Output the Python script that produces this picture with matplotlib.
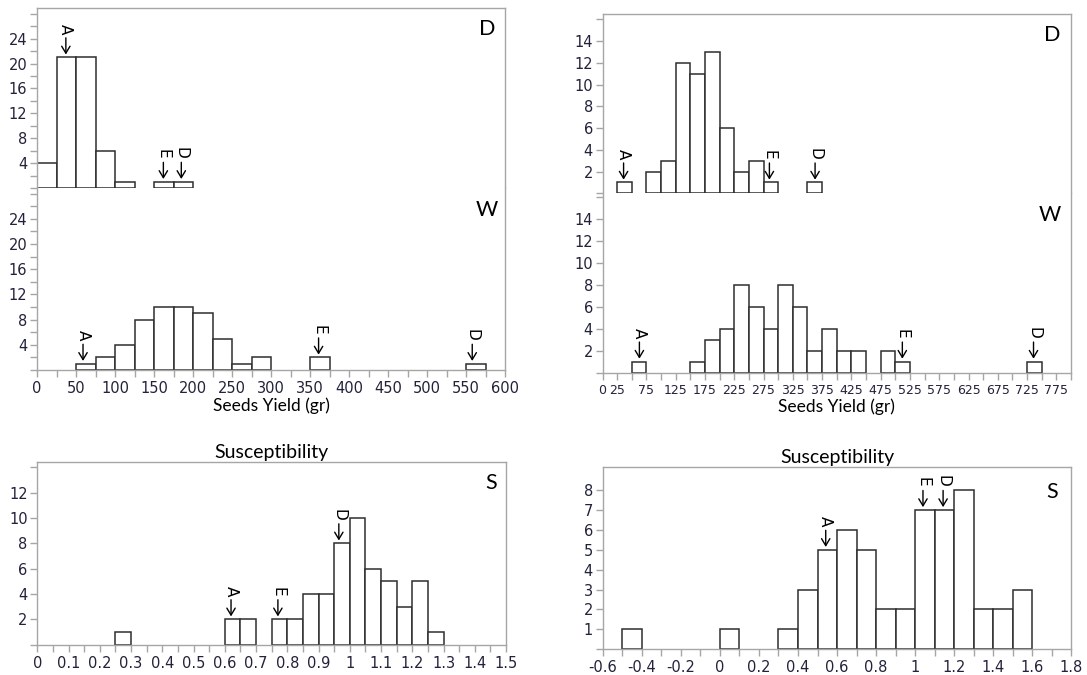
import matplotlib
matplotlib.use("Agg")
import matplotlib.pyplot as plt
import numpy as np

W, H = 1087, 675

# --- data (bin start, counts) ---
tl_d_bins = [0, 25, 50, 75, 100, 150, 175]
tl_d_counts = [4, 21, 21, 6, 1, 1, 1]
tl_w_bins = [50, 75, 100, 125, 150, 175, 200, 225, 250, 275, 350, 550]
tl_w_counts = [1, 2, 4, 8, 10, 10, 9, 5, 1, 2, 2, 1]

tr_d_bins = [25, 75, 100, 125, 150, 175, 200, 225, 250, 275, 350]
tr_d_counts = [1, 2, 3, 12, 11, 13, 6, 2, 3, 1, 1]
tr_w_bins = [50, 150, 175, 200, 225, 250, 275, 300, 325, 350, 375, 400, 425, 475, 500, 725]
tr_w_counts = [1, 1, 3, 4, 8, 6, 4, 8, 6, 2, 4, 2, 2, 2, 1, 1]

bl_bins = [0.25, 0.60, 0.65, 0.75, 0.80, 0.85, 0.90, 0.95, 1.00, 1.05, 1.10, 1.15, 1.20, 1.25]
bl_counts = [1, 2, 2, 2, 2, 4, 4, 8, 10, 6, 5, 3, 5, 1]
br_bins = [-0.5, 0.0, 0.3, 0.4, 0.5, 0.6, 0.7, 0.8, 0.9, 1.0, 1.1, 1.2, 1.3, 1.4, 1.5]
br_counts = [1, 1, 1, 3, 5, 6, 5, 2, 2, 7, 7, 8, 2, 2, 3]

# marked genotypes (value on x axis)
tl_d_marks = {"A": 37, "E": 162, "D": 185}
tl_w_marks = {"A": 59, "E": 361, "D": 558}
tr_d_marks = {"A": 36, "E": 285, "D": 363}
tr_w_marks = {"A": 63, "E": 512, "D": 736}
bl_marks = {"A": 0.62, "E": 0.77, "D": 0.965}
br_marks = {"A": 0.542, "E": 1.04, "D": 1.143}

yield_label = "Seeds Yield (gr)"
susc_title = "Susceptibility"

SPINE = "#a6a6a6"
TXT = "#22223a"
EDGE = "#2e2e2e"
LABEL_FONT = ["Lato", "DejaVu Sans"]


def add_axes_px(fig, x0, y0, x1, y1):
    return fig.add_axes([x0 / W, 1 - y1 / H, (x1 - x0) / W, (y1 - y0) / H])


def style(ax, hide_top=False, hide_bottom=False):
    for sp in ax.spines.values():
        sp.set_color(SPINE)
        sp.set_linewidth(1.0)
    if hide_top:
        ax.spines["top"].set_visible(False)
    if hide_bottom:
        ax.spines["bottom"].set_visible(False)
    ax.tick_params(colors=SPINE, labelcolor=TXT, labelsize=10.5, length=5, width=1, pad=2)
    ax.tick_params(axis="x", pad=3)


def hist(ax, bins, counts, width):
    ax.bar(bins, counts, width=width, align="edge", facecolor="white",
           edgecolor=EDGE, linewidth=1.1, zorder=2)


def mark(ax, marks, bins, counts, width):
    for lab, x in marks.items():
        h = 0
        for b, c in zip(bins, counts):
            if b <= x < b + width:
                h = c
        ax.annotate("", xy=(x, h), xytext=(0, 14), textcoords="offset points",
                    arrowprops=dict(arrowstyle="->,head_length=0.5,head_width=0.3",
                                    lw=1.0, color="black", shrinkA=0, shrinkB=2),
                    annotation_clip=False, zorder=3)
        ax.annotate(lab, xy=(x, h), xytext=(0, 16.5), textcoords="offset points",
                    rotation=-90, ha="center", va="bottom", fontsize=11,
                    color="black", annotation_clip=False, zorder=3)


def panel_letter(ax, text, x, y):
    ax.text(x / W, 1 - y / H, text, transform=ax.figure.transFigure,
            fontsize=15.5, family=LABEL_FONT, ha="center", va="center", color="black")


def fmt(v):
    v = round(float(v), 2) + 0.0
    return "0" if v == 0 else "%g" % v


fig = plt.figure(figsize=(W / 100, H / 100), dpi=100)

# ---------------- top left ----------------
ax = add_axes_px(fig, 37, 7.5, 505, 188)
hist(ax, tl_d_bins, tl_d_counts, 25)
mark(ax, tl_d_marks, tl_d_bins, tl_d_counts, 25)
ax.set_xlim(0, 600)
ax.set_ylim(0.66, 29)
ax.set_yticks(np.arange(0, 29, 2))
ax.set_yticklabels([str(v) if v % 4 == 0 and 0 < v < 28 else "" for v in range(0, 29, 2)])
ax.set_xticks([])
style(ax, hide_bottom=True)
panel_letter(ax, "D", 487, 29)

ax = add_axes_px(fig, 37, 188, 505, 370)
hist(ax, tl_w_bins, tl_w_counts, 25)
mark(ax, tl_w_marks, tl_w_bins, tl_w_counts, 25)
ax.set_xlim(0, 600)
ax.set_ylim(0, 28.9)
ax.set_yticks(np.arange(0, 29, 2))
ax.set_yticklabels([str(v) if v % 4 == 0 and 0 < v < 28 else "" for v in range(0, 29, 2)])
ax.set_xticks(np.arange(0, 601, 25))
ax.set_xticklabels([str(v) if v % 50 == 0 else "" for v in range(0, 601, 25)])
style(ax, hide_top=True)
ax.set_xlabel(yield_label, family=LABEL_FONT, fontsize=12.5, color="black", labelpad=1)
panel_letter(ax, "W", 487, 210)

# ---------------- top right ----------------
ax = add_axes_px(fig, 602.5, 14, 1071, 193.3)
hist(ax, tr_d_bins, tr_d_counts, 25)
mark(ax, tr_d_marks, tr_d_bins, tr_d_counts, 25)
ax.set_xlim(0, 800)
ax.set_ylim(0.18, 16.5)
ax.set_yticks(np.arange(0, 17, 2))
ax.set_yticklabels([str(v) if 0 < v < 16 else "" for v in range(0, 17, 2)])
ax.set_xticks([])
style(ax, hide_bottom=True)
panel_letter(ax, "D", 1052, 35)

ax = add_axes_px(fig, 602.5, 193.3, 1071, 372.5)
hist(ax, tr_w_bins, tr_w_counts, 25)
mark(ax, tr_w_marks, tr_w_bins, tr_w_counts, 25)
ax.set_xlim(0, 800)
ax.set_ylim(0, 16.3)
ax.set_yticks(np.arange(0, 17, 2))
ax.set_yticklabels([str(v) if 0 < v < 16 else "" for v in range(0, 17, 2)])
tr_ticks = list(range(0, 801, 25))
ax.set_xticks(tr_ticks)
ax.set_xticklabels([str(v) if (v == 0 or (v - 25) % 50 == 0) and v < 800 else "" for v in tr_ticks])
style(ax, hide_top=True)
ax.tick_params(axis="x", labelsize=9)
ax.set_xlabel(yield_label, family=LABEL_FONT, fontsize=12.5, color="black", labelpad=1)
panel_letter(ax, "W", 1050, 215)

# ---------------- bottom left ----------------
ax = add_axes_px(fig, 37.3, 462.3, 506, 644.5)
hist(ax, bl_bins, bl_counts, 0.05)
mark(ax, bl_marks, bl_bins, bl_counts, 0.05)
ax.set_xlim(0, 1.5)
ax.set_ylim(0, 14.4)
ax.set_yticks(np.arange(0, 15, 2))
ax.set_yticklabels([str(v) if 0 < v < 14 else "" for v in range(0, 15, 2)])
bl_ticks = np.round(np.arange(0, 1.501, 0.05), 2)
ax.set_xticks(bl_ticks)
ax.set_xticklabels([fmt(v) if round(v * 100) % 10 == 0 else "" for v in bl_ticks])
style(ax)
ax.set_title(susc_title, family=LABEL_FONT, fontsize=14, color="black", pad=3)
panel_letter(ax, "S", 491, 483)

# ---------------- bottom right ----------------
ax = add_axes_px(fig, 602.7, 466.7, 1071.4, 649.3)
hist(ax, br_bins, br_counts, 0.1)
mark(ax, br_marks, br_bins, br_counts, 0.1)
ax.set_xlim(-0.6, 1.8)
ax.set_ylim(0, 9.17)
ax.set_yticks(np.arange(0, 9, 1))
ax.set_yticklabels([str(v) if v > 0 else "" for v in range(0, 9)])
br_ticks = np.round(np.arange(-0.6, 1.801, 0.1), 1)
ax.set_xticks(br_ticks)
ax.set_xticklabels([fmt(v) if round(v * 10) % 2 == 0 else "" for v in br_ticks])
style(ax)
ax.set_title(susc_title, family=LABEL_FONT, fontsize=14, color="black", pad=3)
panel_letter(ax, "S", 1052, 492)

fig.savefig("out.png", dpi=100)
